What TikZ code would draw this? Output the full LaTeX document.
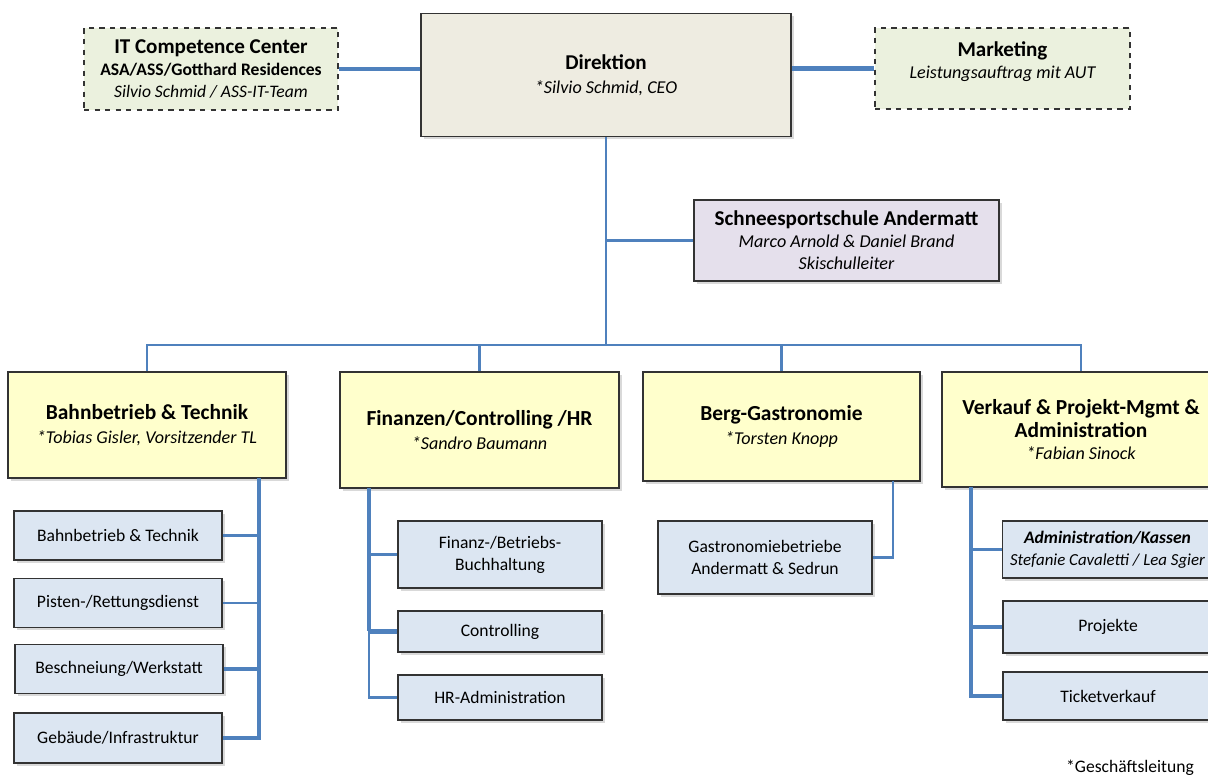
\documentclass[tikz,border=0pt]{standalone}
\usepackage{fontspec}
\setmainfont{Carlito}
\usetikzlibrary{shadows}
\definecolor{linkblue}{HTML}{4F81BD}
\definecolor{dirfill}{HTML}{EEECE1}
\definecolor{sidefill}{HTML}{EBF1DE}
\definecolor{skifill}{HTML}{E5E0EC}
\definecolor{deptfill}{HTML}{FFFFCC}
\definecolor{unitfill}{HTML}{DCE6F2}

\begin{document}
\begin{tikzpicture}[x=0.02cm,y=-0.02cm,
  box/.style={draw=black!80,line width=0.8pt,align=center,inner sep=2pt,
    font=\fontsize{10}{12.5}\selectfont},
  shbox/.style={box,drop shadow={shadow xshift=1.6pt,shadow yshift=-1.6pt,opacity=0.3}},
  dirbox/.style={shbox,fill=dirfill},
  sidebox/.style={box,fill=sidefill,dashed},
  skibox/.style={shbox,fill=skifill},
  deptbox/.style={shbox,fill=deptfill},
  unitbox/.style={shbox,fill=unitfill},
  link/.style={draw=linkblue,line width=1.2pt},
  heavy/.style={draw=linkblue,line width=2.4pt}]
\useasboundingbox (0,0) rectangle (1208,780);
\clip (0,0) rectangle (1208,780);

\node[sidebox,minimum width=5.08cm,minimum height=1.64cm] (ITC) at (211,69)
{{\fontsize{12}{14}\selectfont\bfseries IT Competence Center}\\
{\bfseries ASA/ASS/Gotthard Residences}\\
{\itshape Silvio Schmid / ASS-IT-Team}};
\node[dirbox,minimum width=7.4cm,minimum height=2.46cm] (DIR) at (606,75)
{{\fontsize{12}{14}\selectfont\bfseries Direktion}\\[1pt]
{\itshape\fontsize{10.3}{12.5}\selectfont *Silvio Schmid, CEO}};
\node[sidebox,minimum width=5.1cm,minimum height=1.62cm] (MKT) at (1002.5,68.5)
{{\fontsize{12}{14}\selectfont\bfseries Marketing}\\
{\itshape\fontsize{10.3}{12.5}\selectfont Leistungsauftrag mit AUT}\\[-2.5pt]};
\node[skibox,minimum width=6.1cm,minimum height=1.62cm] (SSA) at (846.5,240.5)
{{\fontsize{12}{14}\selectfont\bfseries Schneesportschule Andermatt}\\
{\itshape\fontsize{10.3}{12.5}\selectfont Marco Arnold \& Daniel Brand}\\
{\itshape\fontsize{10.3}{12.5}\selectfont Skischulleiter}};

\node[deptbox,minimum width=5.56cm,minimum height=2.12cm] (BBT) at (147,425)
{{\fontsize{12.2}{14}\selectfont\bfseries Bahnbetrieb \& Technik}\\[1pt]
{\itshape\fontsize{10.3}{12.5}\selectfont *Tobias Gisler, Vorsitzender TL}};
\node[deptbox,minimum width=5.58cm,minimum height=2.32cm] (FIN) at (479.5,430)
{{\fontsize{12.2}{14}\selectfont\bfseries Finanzen/Controlling /HR}\\[1pt]
{\itshape\fontsize{10.3}{12.5}\selectfont *Sandro Baumann}};
\node[deptbox,minimum width=5.54cm,minimum height=2.18cm] (BGA) at (781.5,426.5)
{{\fontsize{12.2}{14}\selectfont\bfseries Berg-Gastronomie}\\[1pt]
{\itshape\fontsize{10.3}{12.5}\selectfont *Torsten Knopp}};
\node[deptbox,minimum width=5.56cm,minimum height=2.3cm] (VPA) at (1081,429.5)
{{\fontsize{12.2}{14}\selectfont\bfseries Verkauf \& Projekt-Mgmt \&}\\[1pt]
{\fontsize{12.2}{14}\selectfont\bfseries Administration}\\
{\itshape\fontsize{10.3}{12.5}\selectfont *Fabian Sinock}};

\node[unitbox,minimum width=4.16cm,minimum height=0.98cm] (BB1) at (118,535.5) {Bahnbetrieb \& Technik};
\node[unitbox,minimum width=4.16cm,minimum height=0.98cm] (PRD) at (118,603) {Pisten-/Rettungsdienst};
\node[unitbox,minimum width=4.16cm,minimum height=0.98cm] (BSW) at (119,669) {Beschneiung/Werkstatt};
\node[unitbox,minimum width=4.16cm,minimum height=1.0cm] (GIS) at (118,738) {Gebäude/Infrastruktur};

\node[unitbox,minimum width=4.08cm,minimum height=1.34cm] (FBH) at (500,554.5) {Finanz-/Betriebs-\\Buchhaltung};
\node[unitbox,minimum width=4.08cm,minimum height=0.82cm] (CTR) at (500,631.5) {Controlling};
\node[unitbox,minimum width=4.08cm,minimum height=0.9cm] (HRA) at (500,697.5) {HR-Administration};

\node[unitbox,minimum width=4.28cm,minimum height=1.46cm] (GAS) at (765,557.5) {Gastronomiebetriebe\\Andermatt \& Sedrun};

\node[unitbox,minimum width=4.2cm,minimum height=1.14cm] (ADK) at (1107.5,549.5)
{{\bfseries\itshape Administration/Kassen}\\{\itshape\fontsize{9.6}{12}\selectfont Stefanie Cavaletti / Lea Sgier}};
\node[unitbox,minimum width=4.2cm,minimum height=1.04cm] (PRJ) at (1108,627) {Projekte};
\node[unitbox,minimum width=4.2cm,minimum height=0.96cm] (TIK) at (1108,696) {Ticketverkauf};

\node[font=\fontsize{10}{12}\selectfont] (GL) at (1130,768) {*Geschäftsleitung};

\coordinate (J) at (606,345);
\coordinate (bspine) at (259,478);
\coordinate (fspine) at (369,488);
\coordinate (gspine) at (893,481);
\coordinate (vspine) at (971,487);

\draw[heavy] (ITC.east) -- (ITC.east -| DIR.west);
\draw[heavy] (MKT.west) -- (MKT.west -| DIR.east);
\draw[link] (DIR.south) -- (J);
\draw[link] (DIR.south |- SSA.west) -- (SSA.west);
\draw[link] (BBT.north) |- (J) -| (VPA.north);
\draw[link] (FIN.north) -- (FIN.north |- J);
\draw[link] (BGA.north) -- (BGA.north |- J);

\draw[heavy] (bspine) |- (GIS.east);
\draw[link] (BB1.east) -- (BB1.east -| bspine);
\draw[link] (PRD.east) -- (PRD.east -| bspine);
\draw[heavy] (BSW.east) -- (BSW.east -| bspine);

\draw[heavy] (fspine) -- (fspine |- CTR.west);
\draw[link] (fspine |- CTR.west) |- (HRA.west);
\draw[link] (FBH.west) -- (FBH.west -| fspine);
\draw[heavy] (CTR.west) -- (CTR.west -| fspine);

\draw[link] (gspine) |- (GAS.east);

\draw[heavy] (vspine) |- (TIK.west);
\draw[link] (ADK.west) -- (ADK.west -| vspine);
\draw[heavy] (PRJ.west) -- (PRJ.west -| vspine);
\end{tikzpicture}
\end{document}
